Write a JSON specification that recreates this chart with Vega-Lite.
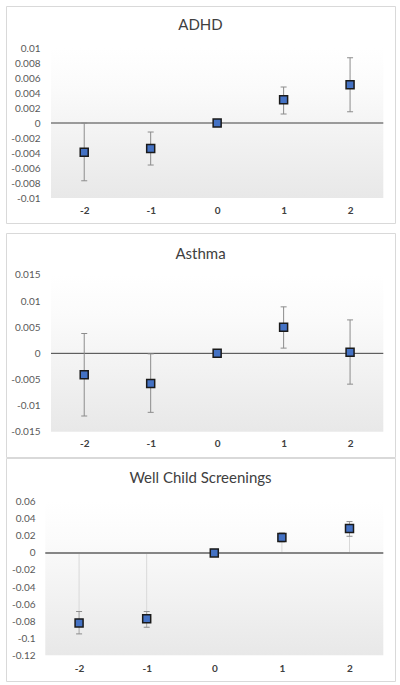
{
  "$schema": "https://vega.github.io/schema/vega-lite/v6.json",
  "padding": {"left": 5, "top": 5, "right": 0, "bottom": 0},
  "background": "#ffffff",
  "config": {
    "font": "Lato",
    "view": {"stroke": "#d9d9d9", "strokeWidth": 1},
    "axis": {"grid": false, "domain": false, "ticks": false, "tickSize": 0, "tickCount": 30, "labelPadding": 0, "labelColor": "#595959", "labelFont": "Lato", "labelFontSize": 10, "labelFlush": false, "labelOverlap": false, "labelBound": false},
    "title": {"font": "Lato", "fontSize": 15, "fontWeight": "normal", "color": "#404040", "anchor": "middle", "frame": "group", "baseline": "middle"}
  },
  "spacing": 8,
  "vconcat": [
    {
      "width": 389, "height": 217,
      "title": {"text": "ADHD", "offset": -27},
      "data": {"values": [
        {"x": -2, "y": -0.0039, "lo": -0.0077, "hi": 0},
        {"x": -1, "y": -0.0034, "lo": -0.0056, "hi": -0.0012},
        {"x": 0, "y": 0, "lo": 0, "hi": 0},
        {"x": 1, "y": 0.0031, "lo": 0.0012, "hi": 0.0048},
        {"x": 2, "y": 0.0051, "lo": 0.0015, "hi": 0.0087}
      ]},
      "layer": [
        {"data": {"values": [{}]}, "mark": {"type": "rect", "fill": {"gradient": "linear", "x1": 0, "y1": 0, "x2": 0, "y2": 1, "stops": [{"offset": 0, "color": "#ffffff"}, {"offset": 0.25, "color": "#fbfbfb"}, {"offset": 1, "color": "#e8e8e8"}]}},
         "encoding": {"x": {"datum": -2.5, "type": "quantitative", "title": null}, "x2": {"datum": 2.5}, "y": {"datum": 0.01, "type": "quantitative", "title": null}, "y2": {"datum": -0.01}}},
        {"data": {"values": [{}]}, "mark": {"type": "rule", "color": "#404040", "strokeWidth": 1},
         "encoding": {"x": {"datum": -2.5, "type": "quantitative", "title": null}, "x2": {"datum": 2.5}, "y": {"datum": 0, "type": "quantitative", "title": null}}},
        {"mark": {"type": "rule", "color": "#8c8c8c", "strokeWidth": 1},
         "encoding": {"x": {"field": "x", "type": "quantitative", "title": null}, "y": {"field": "lo", "type": "quantitative", "title": null}, "y2": {"field": "hi"}}},
        {"mark": {"type": "tick", "orient": "horizontal", "size": 6, "color": "#8c8c8c", "thickness": 1, "opacity": 1},
         "encoding": {"x": {"field": "x", "type": "quantitative", "title": null}, "y": {"field": "lo", "type": "quantitative", "title": null}}},
        {"mark": {"type": "tick", "orient": "horizontal", "size": 6, "color": "#8c8c8c", "thickness": 1, "opacity": 1},
         "encoding": {"x": {"field": "x", "type": "quantitative", "title": null}, "y": {"field": "hi", "type": "quantitative", "title": null}}},
        {"mark": {"type": "point", "shape": "square", "filled": true, "fill": "#4472c4", "stroke": "#1a1a1a", "strokeWidth": 1.5, "size": 64, "opacity": 1},
         "encoding": {
           "x": {"field": "x", "type": "quantitative", "title": null, "scale": {"domain": [-3.177, 2.676], "nice": false, "zero": false}, "axis": {"orient": "bottom", "values": [-2, -1, 0, 1, 2], "tickCount": 30, "offset": -13, "labelOverlap": false, "labelBaseline": "middle", "labelFontWeight": "bold", "labelColor": "#404040", "labelExpr": "toString(datum.value)"}},
           "y": {"field": "y", "type": "quantitative", "title": null, "scale": {"domain": [-0.01333, 0.0156], "nice": false, "zero": false}, "axis": {"orient": "left", "values": [-0.01, -0.008, -0.006, -0.004, -0.002, 0, 0.002, 0.004, 0.006, 0.008, 0.01], "tickCount": 30, "offset": -34, "labelOverlap": false, "labelExpr": "toString(datum.value)"}}
         }}
      ]
    },
    {
      "spacing": -3,
      "vconcat": [
        {
          "width": 389, "height": 224,
          "title": {"text": "Asthma", "offset": -29},
          "data": {"values": [
            {"x": -2, "y": -0.0041, "lo": -0.0120, "hi": 0.0038},
            {"x": -1, "y": -0.0058, "lo": -0.0113, "hi": -0.0001},
            {"x": 0, "y": 0, "lo": 0, "hi": 0},
            {"x": 1, "y": 0.0050, "lo": 0.0010, "hi": 0.0089},
            {"x": 2, "y": 0.0002, "lo": -0.0059, "hi": 0.0064}
          ]},
          "layer": [
            {"data": {"values": [{}]}, "mark": {"type": "rect", "fill": {"gradient": "linear", "x1": 0, "y1": 0, "x2": 0, "y2": 1, "stops": [{"offset": 0, "color": "#ffffff"}, {"offset": 0.25, "color": "#fbfbfb"}, {"offset": 1, "color": "#e8e8e8"}]}},
             "encoding": {"x": {"datum": -2.5, "type": "quantitative", "title": null}, "x2": {"datum": 2.5}, "y": {"datum": 0.015, "type": "quantitative", "title": null}, "y2": {"datum": -0.015}}},
            {"data": {"values": [{}]}, "mark": {"type": "rule", "color": "#404040", "strokeWidth": 1},
             "encoding": {"x": {"datum": -2.5, "type": "quantitative", "title": null}, "x2": {"datum": 2.5}, "y": {"datum": 0, "type": "quantitative", "title": null}}},
            {"mark": {"type": "rule", "color": "#8c8c8c", "strokeWidth": 1},
             "encoding": {"x": {"field": "x", "type": "quantitative", "title": null}, "y": {"field": "lo", "type": "quantitative", "title": null}, "y2": {"field": "hi"}}},
            {"mark": {"type": "tick", "orient": "horizontal", "size": 6, "color": "#8c8c8c", "thickness": 1, "opacity": 1},
             "encoding": {"x": {"field": "x", "type": "quantitative", "title": null}, "y": {"field": "lo", "type": "quantitative", "title": null}}},
            {"mark": {"type": "tick", "orient": "horizontal", "size": 6, "color": "#8c8c8c", "thickness": 1, "opacity": 1},
             "encoding": {"x": {"field": "x", "type": "quantitative", "title": null}, "y": {"field": "hi", "type": "quantitative", "title": null}}},
            {"mark": {"type": "point", "shape": "square", "filled": true, "fill": "#4472c4", "stroke": "#1a1a1a", "strokeWidth": 1.5, "size": 64, "opacity": 1},
             "encoding": {
               "x": {"field": "x", "type": "quantitative", "title": null, "scale": {"domain": [-3.177, 2.676], "nice": false, "zero": false}, "axis": {"orient": "bottom", "values": [-2, -1, 0, 1, 2], "tickCount": 30, "offset": -14, "labelOverlap": false, "labelBaseline": "middle", "labelFontWeight": "bold", "labelColor": "#404040", "labelExpr": "toString(datum.value)"}},
               "y": {"field": "y", "type": "quantitative", "title": null, "scale": {"domain": [-0.01985, 0.02304], "nice": false, "zero": false}, "axis": {"orient": "left", "values": [-0.015, -0.01, -0.005, 0, 0.005, 0.01, 0.015], "tickCount": 30, "offset": -34, "labelOverlap": false, "labelExpr": "toString(datum.value)"}}
             }}
          ]
        },
        {
          "width": 389, "height": 223,
          "title": {"text": "Well Child Screenings", "offset": -28},
          "data": {"values": [
            {"x": -2, "y": -0.082, "lo": -0.0949, "hi": -0.0687},
            {"x": -1, "y": -0.0773, "lo": -0.0871, "hi": -0.0687},
            {"x": 0, "y": 0, "lo": 0, "hi": 0},
            {"x": 1, "y": 0.018, "lo": 0.013, "hi": 0.0234},
            {"x": 2, "y": 0.0285, "lo": 0.0195, "hi": 0.0367}
          ]},
          "layer": [
            {"data": {"values": [{}]}, "mark": {"type": "rect", "fill": {"gradient": "linear", "x1": 0, "y1": 0, "x2": 0, "y2": 1, "stops": [{"offset": 0, "color": "#ffffff"}, {"offset": 0.25, "color": "#fbfbfb"}, {"offset": 1, "color": "#e8e8e8"}]}},
             "encoding": {"x": {"datum": -2.5, "type": "quantitative", "title": null}, "x2": {"datum": 2.5}, "y": {"datum": 0.06, "type": "quantitative", "title": null}, "y2": {"datum": -0.12}}},
            {"mark": {"type": "rule", "color": "#d9d9d9", "strokeWidth": 1},
             "encoding": {"x": {"field": "x", "type": "quantitative", "title": null}, "y": {"field": "y", "type": "quantitative", "title": null}, "y2": {"datum": 0}}},
            {"data": {"values": [{}]}, "mark": {"type": "rule", "color": "#868686", "strokeWidth": 2},
             "encoding": {"x": {"datum": -2.5, "type": "quantitative", "title": null}, "x2": {"datum": 2.5}, "y": {"datum": 0, "type": "quantitative", "title": null}}},
            {"mark": {"type": "rule", "color": "#a6a6a6", "strokeWidth": 1},
             "encoding": {"x": {"field": "x", "type": "quantitative", "title": null}, "y": {"field": "lo", "type": "quantitative", "title": null}, "y2": {"field": "hi"}}},
            {"mark": {"type": "tick", "orient": "horizontal", "size": 6, "color": "#8c8c8c", "thickness": 1, "opacity": 1},
             "encoding": {"x": {"field": "x", "type": "quantitative", "title": null}, "y": {"field": "lo", "type": "quantitative", "title": null}}},
            {"mark": {"type": "tick", "orient": "horizontal", "size": 6, "color": "#8c8c8c", "thickness": 1, "opacity": 1},
             "encoding": {"x": {"field": "x", "type": "quantitative", "title": null}, "y": {"field": "hi", "type": "quantitative", "title": null}}},
            {"mark": {"type": "point", "shape": "square", "filled": true, "fill": "#4472c4", "stroke": "#1a1a1a", "strokeWidth": 1.5, "size": 64, "opacity": 1},
             "encoding": {
               "x": {"field": "x", "type": "quantitative", "title": null, "scale": {"domain": [-3.081, 2.673], "nice": false, "zero": false}, "axis": {"orient": "bottom", "values": [-2, -1, 0, 1, 2], "tickCount": 30, "offset": -13, "labelOverlap": false, "labelBaseline": "middle", "labelFontWeight": "bold", "labelColor": "#404040", "labelExpr": "toString(datum.value)"}},
               "y": {"field": "y", "type": "quantitative", "title": null, "scale": {"domain": [-0.1501, 0.1112], "nice": false, "zero": false}, "axis": {"orient": "left", "values": [-0.12, -0.1, -0.08, -0.06, -0.04, -0.02, 0, 0.02, 0.04, 0.06], "tickCount": 30, "offset": -29, "labelOverlap": false, "labelExpr": "toString(datum.value)"}}
             }}
          ]
        }
      ]
    }
  ]
}
